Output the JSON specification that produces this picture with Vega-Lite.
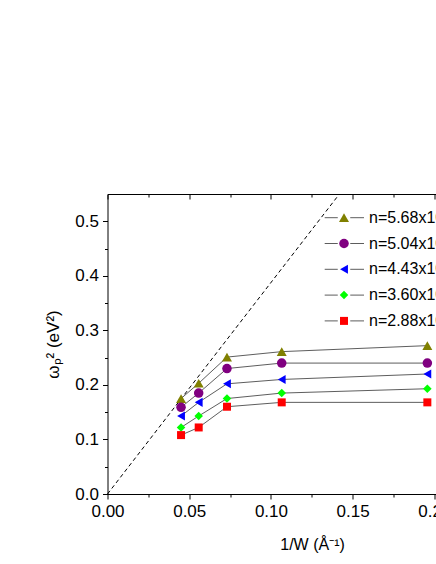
{
  "$schema": "https://vega.github.io/schema/vega-lite/v6.json",
  "width": 329,
  "height": 300,
  "autosize": {"type": "none"},
  "padding": {"left": 107.5, "top": 194, "right": 0, "bottom": 70},
  "background": "white",
  "config": {
    "view": {"stroke": null},
    "font": "Liberation Sans",
    "axis": {
      "grid": false,
      "domainColor": "black",
      "tickColor": "black",
      "labelColor": "black",
      "titleColor": "black",
      "labelFont": "Liberation Sans",
      "titleFont": "Liberation Sans",
      "labelFontSize": 17,
      "titleFontSize": 16,
      "titleFontWeight": "normal",
      "domainWidth": 1,
      "tickWidth": 1,
      "labelOverlap": false,
      "labelFlush": false
    }
  },
  "datasets": {
    "diag": [
      {"x": 0, "y": 0},
      {"x": 0.1419, "y": 0.55}
    ],
    "pts": [
      {"x": 0.045, "y": 0.175, "n": "n=5.68x10¹³ cm⁻²", "s": "5.68"},
      {"x": 0.0558, "y": 0.203, "n": "n=5.68x10¹³ cm⁻²", "s": "5.68"},
      {"x": 0.0731, "y": 0.251, "n": "n=5.68x10¹³ cm⁻²", "s": "5.68"},
      {"x": 0.1066, "y": 0.261, "n": "n=5.68x10¹³ cm⁻²", "s": "5.68"},
      {"x": 0.1957, "y": 0.272, "n": "n=5.68x10¹³ cm⁻²", "s": "5.68"},
      {"x": 0.045, "y": 0.159, "n": "n=5.04x10¹³ cm⁻²", "s": "5.04"},
      {"x": 0.0558, "y": 0.185, "n": "n=5.04x10¹³ cm⁻²", "s": "5.04"},
      {"x": 0.0731, "y": 0.23, "n": "n=5.04x10¹³ cm⁻²", "s": "5.04"},
      {"x": 0.1066, "y": 0.24, "n": "n=5.04x10¹³ cm⁻²", "s": "5.04"},
      {"x": 0.1957, "y": 0.24, "n": "n=5.04x10¹³ cm⁻²", "s": "5.04"},
      {"x": 0.045, "y": 0.143, "n": "n=4.43x10¹³ cm⁻²", "s": "4.43"},
      {"x": 0.0558, "y": 0.168, "n": "n=4.43x10¹³ cm⁻²", "s": "4.43"},
      {"x": 0.0731, "y": 0.202, "n": "n=4.43x10¹³ cm⁻²", "s": "4.43"},
      {"x": 0.1066, "y": 0.21, "n": "n=4.43x10¹³ cm⁻²", "s": "4.43"},
      {"x": 0.1957, "y": 0.22, "n": "n=4.43x10¹³ cm⁻²", "s": "4.43"},
      {"x": 0.045, "y": 0.122, "n": "n=3.60x10¹³ cm⁻²", "s": "3.60"},
      {"x": 0.0558, "y": 0.143, "n": "n=3.60x10¹³ cm⁻²", "s": "3.60"},
      {"x": 0.0731, "y": 0.175, "n": "n=3.60x10¹³ cm⁻²", "s": "3.60"},
      {"x": 0.1066, "y": 0.185, "n": "n=3.60x10¹³ cm⁻²", "s": "3.60"},
      {"x": 0.1957, "y": 0.193, "n": "n=3.60x10¹³ cm⁻²", "s": "3.60"},
      {"x": 0.045, "y": 0.108, "n": "n=2.88x10¹³ cm⁻²", "s": "2.88"},
      {"x": 0.0558, "y": 0.122, "n": "n=2.88x10¹³ cm⁻²", "s": "2.88"},
      {"x": 0.0731, "y": 0.16, "n": "n=2.88x10¹³ cm⁻²", "s": "2.88"},
      {"x": 0.1066, "y": 0.168, "n": "n=2.88x10¹³ cm⁻²", "s": "2.88"},
      {"x": 0.1957, "y": 0.168, "n": "n=2.88x10¹³ cm⁻²", "s": "2.88"}
    ]
  },
  "layer": [
    {
      "data": {"name": "diag"},
      "mark": {"type": "line", "color": "black", "strokeDash": [4, 3], "strokeWidth": 1},
      "encoding": {
        "x": {
          "field": "x", "type": "quantitative",
          "scale": {"domain": [0, 0.2013], "nice": false, "zero": false},
          "axis": {
            "orient": "top", "title": null, "labels": false,
            "values": [0, 0.025, 0.05, 0.075, 0.1, 0.125, 0.15, 0.175, 0.2],
            "tickSize": {"condition": {"test": "round(datum.value*40) % 2 == 0", "value": -5}, "value": -3}
          }
        },
        "y": {
          "field": "y", "type": "quantitative",
          "scale": {"domain": [0, 0.55], "nice": false, "zero": false},
          "axis": null
        }
      }
    },
    {
      "data": {"name": "pts"},
      "mark": {"type": "line", "strokeWidth": 0.8},
      "encoding": {
        "x": {
          "field": "x", "type": "quantitative",
          "axis": {
            "orient": "bottom",
            "title": "1/W (Å⁻¹)",
            "titleX": 204.5, "titleY": 55, "titleAlign": "center", "titleBaseline": "alphabetic", "titleAnchor": null,
            "values": [0, 0.025, 0.05, 0.075, 0.1, 0.125, 0.15, 0.175, 0.2],
            "labelExpr": "round(datum.value*40) % 2 == 0 ? format(datum.value, '.2f') : ''",
            "labelPadding": 4,
            "tickSize": {"condition": {"test": "round(datum.value*40) % 2 == 0", "value": 5}, "value": 3}
          }
        },
        "y": {
          "field": "y", "type": "quantitative",
          "axis": {
            "orient": "left",
            "title": "ωₚ² (eV²)",
            "titleX": -54, "titleY": 150, "titleAngle": -90, "titleAlign": "center", "titleBaseline": "middle", "titleAnchor": null,
            "titleFontSize": 17,
            "values": [0, 0.05, 0.1, 0.15, 0.2, 0.25, 0.3, 0.35, 0.4, 0.45, 0.5],
            "labelExpr": "round(datum.value*20) % 2 == 0 ? format(datum.value, '.1f') : ''",
            "labelPadding": 4,
            "tickSize": {"condition": {"test": "round(datum.value*20) % 2 == 0", "value": 5}, "value": 3}
          }
        },
        "stroke": {
          "field": "s", "type": "nominal",
          "scale": {"domain": ["5.68", "5.04", "4.43", "3.60", "2.88"], "range": ["#333333", "#333333", "#333333", "#333333", "#333333"]},
          "legend": {
            "orient": "none", "legendX": 228.5, "legendY": 15.7, "title": null, "padding": 0,
            "labelFontSize": 16, "labelFont": "Liberation Sans", "labelColor": "rgba(0,0,0,0)",
            "rowPadding": 9.8, "labelOffset": 17,
            "symbolSize": 100, "symbolType": "M-3.86,0H-1.25M1.25,0H4", "symbolStrokeWidth": 0.8
          }
        }
      }
    },
    {
      "data": {"name": "pts"},
      "mark": {"type": "point", "filled": true, "opacity": 1},
      "encoding": {
        "x": {"field": "x", "type": "quantitative", "axis": null},
        "y": {"field": "y", "type": "quantitative", "axis": null},
        "color": {
          "field": "n", "type": "nominal",
          "scale": {
            "domain": ["n=5.68x10¹³ cm⁻²", "n=5.04x10¹³ cm⁻²", "n=4.43x10¹³ cm⁻²", "n=3.60x10¹³ cm⁻²", "n=2.88x10¹³ cm⁻²"],
            "range": ["#808000", "#800080", "#0000ff", "#00ff00", "#ff0000"]
          },
          "legend": {
            "orient": "none", "legendX": 228.5, "legendY": 15.7, "title": null, "padding": 0,
            "labelFontSize": 16, "labelFont": "Liberation Sans", "labelColor": "black",
            "rowPadding": 9.8, "labelOffset": 17,
            "symbolStrokeWidth": 0.8, "symbolStrokeColor": "transparent"
          }
        },
        "shape": {
          "field": "n", "type": "nominal",
          "scale": {
            "domain": ["n=5.68x10¹³ cm⁻²", "n=5.04x10¹³ cm⁻²", "n=4.43x10¹³ cm⁻²", "n=3.60x10¹³ cm⁻²", "n=2.88x10¹³ cm⁻²"],
            "range": ["triangle-up", "circle", "triangle-left", "diamond", "square"]
          },
          "legend": {
            "orient": "none", "legendX": 228.5, "legendY": 15.7, "title": null, "padding": 0,
            "labelFontSize": 16, "labelFont": "Liberation Sans", "labelColor": "black",
            "rowPadding": 9.8, "labelOffset": 17,
            "symbolStrokeWidth": 0.8, "symbolStrokeColor": "transparent"
          }
        },
        "size": {
          "field": "n", "type": "nominal",
          "scale": {
            "domain": ["n=5.68x10¹³ cm⁻²", "n=5.04x10¹³ cm⁻²", "n=4.43x10¹³ cm⁻²", "n=3.60x10¹³ cm⁻²", "n=2.88x10¹³ cm⁻²"],
            "range": [100, 64, 100, 80, 56]
          },
          "legend": {
            "orient": "none", "legendX": 228.5, "legendY": 15.7, "title": null, "padding": 0,
            "labelFontSize": 16, "labelFont": "Liberation Sans", "labelColor": "black",
            "rowPadding": 9.8, "labelOffset": 17,
            "symbolStrokeWidth": 0.8, "symbolStrokeColor": "transparent"
          }
        }
      }
    }
  ],
  "resolve": {"axis": {"x": "independent", "y": "independent"}}
}
